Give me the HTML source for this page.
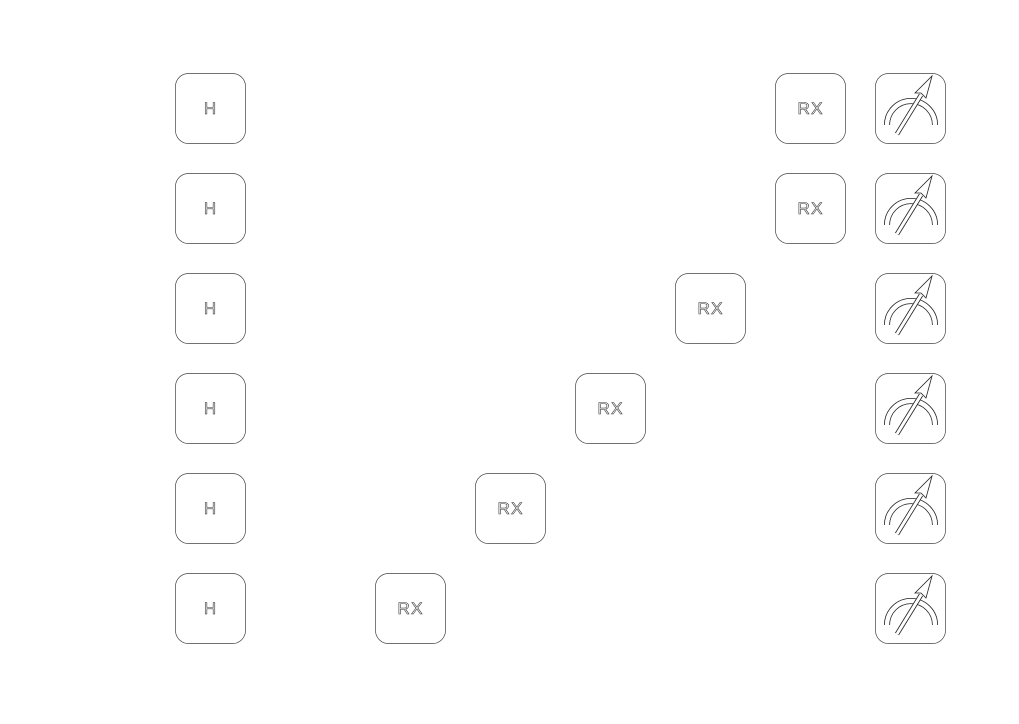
<!DOCTYPE html>
<html><head><style>body{margin:0;background:#fff}</style></head><body>
<svg width="1019" height="719" xmlns="http://www.w3.org/2000/svg">
<defs>
<g id="m">
<rect x="0.5" y="0.5" width="70" height="70" rx="13" fill="#fff" stroke="#444" stroke-width="0.7"/>
<path d="M12,52 A24,24 0 0 1 60,52" fill="none" stroke="#222" stroke-width="6"/>
<path d="M12,52 A24,24 0 0 1 60,52" fill="none" stroke="#fff" stroke-width="4.4"/>
<line x1="22" y1="61" x2="46" y2="22" stroke="#222" stroke-width="4.6"/>
<line x1="22" y1="61" x2="46" y2="22" stroke="#fff" stroke-width="3"/>
<path d="M57,3 L51,25 L46,20 L40,20 Z" fill="#fff" stroke="#222" stroke-width="0.8"/>
</g>
</defs>
<g fill="#fff" stroke="#444" stroke-width="0.7">
<rect x="175.5" y="73.5" width="70" height="70" rx="13"/>
<rect x="175.5" y="173.5" width="70" height="70" rx="13"/>
<rect x="175.5" y="273.5" width="70" height="70" rx="13"/>
<rect x="175.5" y="373.5" width="70" height="70" rx="13"/>
<rect x="175.5" y="473.5" width="70" height="70" rx="13"/>
<rect x="175.5" y="573.5" width="70" height="70" rx="13"/>
<rect x="775.5" y="73.5" width="70" height="70" rx="13"/>
<rect x="775.5" y="173.5" width="70" height="70" rx="13"/>
<rect x="675.5" y="273.5" width="70" height="70" rx="13"/>
<rect x="575.5" y="373.5" width="70" height="70" rx="13"/>
<rect x="475.5" y="473.5" width="70" height="70" rx="13"/>
<rect x="375.5" y="573.5" width="70" height="70" rx="13"/>
</g>
<g font-family="Liberation Sans, sans-serif" font-size="17" fill="#fff" stroke="#333" stroke-width="0.6" text-anchor="middle">
<text x="210" y="114">H</text><text x="210" y="214">H</text><text x="210" y="314">H</text>
<text x="210" y="414">H</text><text x="210" y="514">H</text><text x="210" y="614">H</text>
<text x="810" y="114" textLength="25">RX</text><text x="810" y="214" textLength="25">RX</text><text x="710" y="314" textLength="25">RX</text>
<text x="610" y="414" textLength="25">RX</text><text x="510" y="514" textLength="25">RX</text><text x="410" y="614" textLength="25">RX</text>
</g>
<use href="#m" x="875" y="73"/><use href="#m" x="875" y="173"/><use href="#m" x="875" y="273"/>
<use href="#m" x="875" y="373"/><use href="#m" x="875" y="473"/><use href="#m" x="875" y="573"/>
</svg>
</body></html>
